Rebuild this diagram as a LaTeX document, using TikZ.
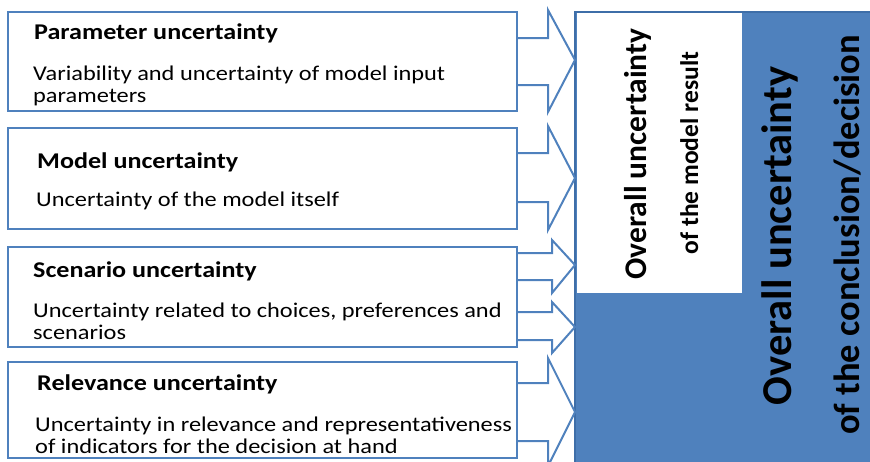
\documentclass[tikz,border=0pt]{standalone}
\usepackage{fontspec}
\setmainfont{Carlito}
\newfontfamily\boxfont{Carlito}[FakeStretch=1.16]
\definecolor{offblue}{RGB}{79,129,189}
\definecolor{edgeblue}{RGB}{62,110,168}

% block arrow from a source box to the panel
% #1 box, #2/#3 shaft top/bottom, #4/#5 head top/bottom, #6 head x, #7 tip y
\newcommand\feedarrow[7]{%
  \draw[feed] (#1.east |- 0,#2) -- (#6,#2) -- (#6,#4) -- (dec.west |- 0,#7)
    -- (#6,#5) -- (#6,#3) -- (#1.east |- 0,#3);}

\begin{document}
\begin{tikzpicture}[x=1pt, y=-1pt,
  srcbox/.style={draw=offblue, line width=2pt, minimum width=509pt, anchor=north west, inner sep=0pt, outer sep=0pt},
  title/.style={anchor=base west, inner sep=0pt, font=\boxfont\fontsize{22.5}{24}\selectfont\bfseries},
  desc/.style={anchor=base west, inner sep=0pt, align=left, font=\boxfont\fontsize{21}{22}\selectfont},
  feed/.style={draw=offblue, line width=2pt, line join=miter},
  vtext/.style={rotate=90, anchor=base, inner sep=0pt, font=\fontsize{#1}{#1}\selectfont\bfseries}]
\useasboundingbox (0,0) rectangle (870,461);
\clip (0,0) rectangle (870,461);

% result panel
\node (dec) [fill=offblue, draw=edgeblue, line width=2pt, anchor=north west, outer sep=0pt,
  minimum width=310pt, minimum height=470pt] at (575,12) {};
\node (res) [fill=white, anchor=north west, outer sep=0pt, minimum width=165pt, minimum height=280pt] at (577,13) {};
\node[vtext=31.5] (restitle) at (646,154) {Overall uncertainty};
\node[vtext=25.5] (ressub) at (698,153) {of the model result};
\node[vtext=42.5] (dectitle) at (791,236) {Overall uncertainty};
\node[vtext=36.5] (decsub) at (859,235) {of the conclusion/decision};

% sources of uncertainty
\node (par) [srcbox, minimum height=99pt] at (8,12) {};
\node (mod) [srcbox, minimum height=101pt] at (8,128) {};
\node (scn) [srcbox, minimum height=100pt] at (8,247) {};
\node (rel) [srcbox, minimum height=96pt] at (8,362) {};

% two-line texts sit on the baseline of their last line
\node[title] (partitle) at ([shift={(26,27)}]par.north west) {Parameter uncertainty};
\node[desc] (pardesc) at ([shift={(25,90)}]par.north west) {Variability and uncertainty of model input\\parameters};
\node[title] (modtitle) at ([shift={(29,40)}]mod.north west) {Model uncertainty};
\node[desc] (moddesc) at ([shift={(28,78)}]mod.north west) {Uncertainty of the model itself};
\node[title] (scntitle) at ([shift={(25,30)}]scn.north west) {Scenario uncertainty};
\node[desc] (scndesc) at ([shift={(25,92)}]scn.north west) {Uncertainty related to choices, preferences and\\scenarios};
\node[title] (reltitle) at ([shift={(29,28)}]rel.north west) {Relevance uncertainty};
\node[desc] (reldesc) at ([shift={(27,91)}]rel.north west) {Uncertainty in relevance and representativeness\\of indicators for the decision at hand};

% arrows into the panel
\feedarrow{par}{38}{85}{10}{112}{548}{60}
\feedarrow{mod}{153}{202}{126}{230}{548}{178}
\feedarrow{scn}{253}{280}{240}{293}{552}{265}
\feedarrow{scn}{312}{340}{302}{353}{552}{327}
\feedarrow{rel}{383}{441}{358}{466}{548}{412}
\end{tikzpicture}
\end{document}
